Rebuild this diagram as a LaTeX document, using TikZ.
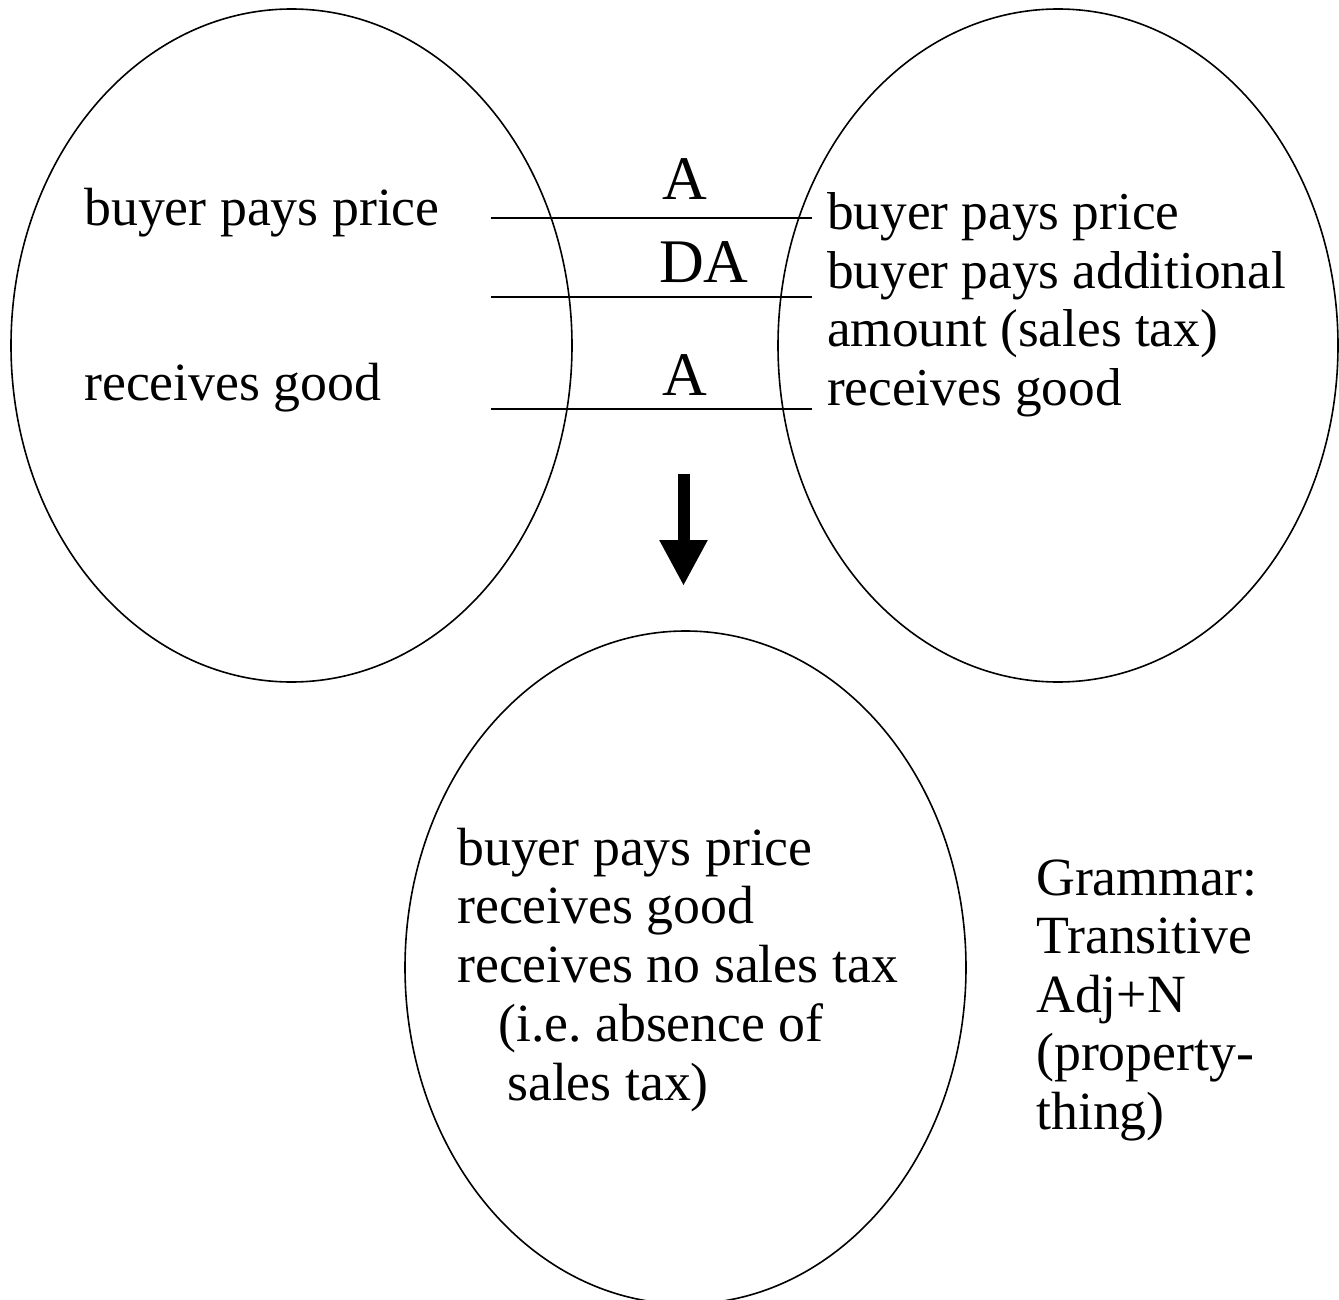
\documentclass[tikz,border=0pt]{standalone}
\usepackage{fontspec}
\setmainfont{Liberation Serif}
\usetikzlibrary{arrows.meta}
\frenchspacing
\tikzset{
  frame/.style={draw, line width=1.6pt},
  link/.style={draw, line width=2pt},
  body/.style={inner sep=0pt, anchor=base west, font=\fontsize{53.8}{58.6}\selectfont},
  rbody/.style={inner sep=0pt, anchor=base west, font=\fontsize{53.3}{58.4}\selectfont},
  tag/.style={inner sep=0pt, anchor=base, font=\fontsize{62}{70}\selectfont},
  bigarrow/.style={line width=12pt, -{Triangle[width=45pt,length=46pt]}}
}
\begin{document}
\begin{tikzpicture}[x=1pt,y=-1pt]
\useasboundingbox (0,0) rectangle (1339,1300);

% three circles of meaning
\draw[frame] (291.5,345.5) ellipse [x radius=280.5, y radius=336.5];
\draw[frame] (1058,345.5) ellipse [x radius=280, y radius=336.5];
\begin{scope}
  \clip (0,0) rectangle (1339,1300);
  \draw[frame] (685.5,967.5) ellipse [x radius=280.5, y radius=336.5];
\end{scope}

% left circle
\node[body] (l1) at (84,225.5) {buyer pays price};
\node[body] (l2) at (84,400) {receives good};

% right circle
\node[rbody] (r1) at (827,230) {%
  \begin{tabular}[t]{@{}l@{}}
  buyer pays price\\
  buyer pays additional\\
  amount (sales tax)\\
  receives good
  \end{tabular}};

% correspondence lines
\coordinate (a1) at (491,218);  \coordinate (b1) at (812,218);
\coordinate (a2) at (491,297);  \coordinate (b2) at (812,297);
\coordinate (a3) at (491,409);  \coordinate (b3) at (812,409);
\draw[link] (a1) -- (b1);
\draw[link] (a2) -- (b2);
\draw[link] (a3) -- (b3);

\node[tag] (t1) at (685,200) {A};
\node[tag] (t2) at (704,283) {DA};
\node[tag] (t3) at (685,395) {A};

% blending arrow
\coordinate (ar0) at (683.5,474);
\coordinate (ar1) at (683.5,586);
\draw[bigarrow] (ar0) -- (ar1);

% bottom circle
\node[body, font=\fontsize{53.8}{58.9}\selectfont] (b) at (457,865) {%
  \begin{tabular}[t]{@{}l@{}}
  buyer pays price\\
  receives good\\
  receives no sales tax\\
  \hspace*{41pt}(i.e. absence of\\
  \hspace*{50pt}sales tax)
  \end{tabular}};

% grammar note
\node[body] (g) at (1036,895) {%
  \begin{tabular}[t]{@{}l@{}}
  Grammar:\\
  Transitive\\
  Adj+N\\
  (property-\\
  thing)
  \end{tabular}};
\end{tikzpicture}
\end{document}
